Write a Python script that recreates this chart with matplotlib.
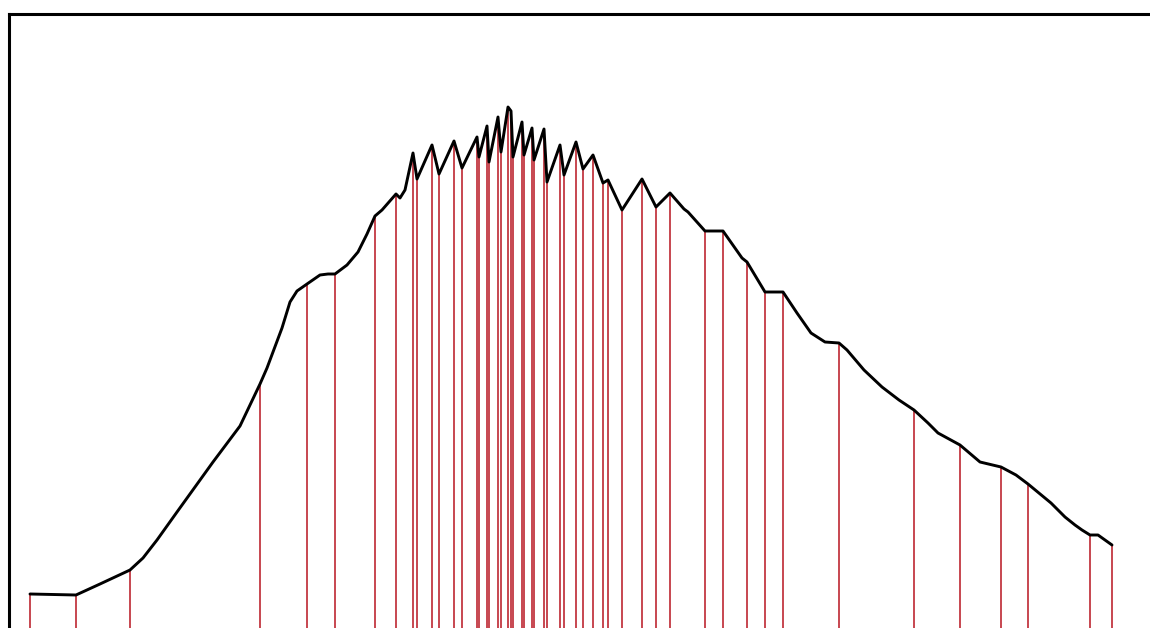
import numpy as np
import matplotlib
matplotlib.use("Agg")
import matplotlib.pyplot as plt

# curve vertices: x position, pixel row of the curve, and whether a red stem is drawn
x = [30, 76, 100, 130, 143, 157, 177, 213, 240, 260, 267, 273, 282, 290, 297,
     307, 320, 328, 335, 347, 358, 367,
     375, 382, 396, 400, 405, 413, 417, 432, 439, 454, 462, 477, 479, 487, 489, 498,
     501, 508, 511, 513, 522, 524, 532, 534, 544, 547, 560, 564, 576, 583, 593, 603,
     608, 622, 642, 656, 670, 684, 688, 705, 723, 742, 747, 765, 783, 797, 811, 825, 839,
     847, 864, 882, 899, 914, 928, 938, 949, 960, 980, 1001, 1016, 1028, 1051, 1065,
     1075, 1082, 1090, 1098, 1112]
y_pix = [594, 595, 584, 570, 558, 540, 512, 462, 426, 384, 368, 352, 328, 302, 291,
         284, 275, 274, 274, 265, 252, 234,
         216, 210, 194, 198, 190, 153, 179, 145, 174, 141, 168, 137, 157, 126, 162, 117,
         152, 107, 111, 157, 122, 155, 128, 160, 129, 182, 145, 175, 142, 169, 155, 183,
         180, 210, 179, 207, 193, 209, 212, 231, 231, 258, 262, 292, 292, 313, 333, 342, 343,
         350, 370, 387, 400, 410, 423, 433, 439, 445, 462, 467, 475, 484, 503, 517,
         525, 530, 535, 535, 545]
stem = [1, 1, 0, 1, 0, 0, 0, 0, 0, 1, 0, 0, 0, 0, 0,
        1, 0, 0, 1, 0, 0, 0,
        1, 0, 1, 0, 0, 1, 1, 1, 1, 1, 1, 1, 1, 1, 1, 1,
        1, 1, 1, 1, 1, 1, 1, 1, 1, 1, 1, 1, 1, 1, 1, 1,
        1, 1, 1, 1, 1, 0, 0, 1, 1, 0, 1, 1, 1, 0, 0, 0, 1,
        0, 0, 0, 0, 1, 0, 0, 0, 1, 0, 1, 0, 1, 0, 0,
        0, 0, 1, 0, 1]

H = 628
height = [H - v for v in y_pix]

x = np.array(x)
height = np.array(height)
stem = np.array(stem, dtype=bool)

fig = plt.figure(figsize=(11.5, 6.28), dpi=100)
top = H - 13.5
ax = fig.add_axes([9 / 1150, 0, 1 - 9 / 1150 + 0.01, top / H])
ax.set_xlim(9, 9 + (1 - 9 / 1150 + 0.01) * 1150)
ax.set_ylim(0, top)

ax.vlines(x[stem], 0, height[stem], color='#c0303a', linewidth=1.25, zorder=1)
ax.plot(x, height, color='black', linewidth=2.1, solid_joinstyle='round',
        solid_capstyle='round', zorder=2)

for s in ['right', 'bottom']:
    ax.spines[s].set_visible(False)
for s in ['left', 'top']:
    ax.spines[s].set_linewidth(2.2)
ax.set_xticks([])
ax.set_yticks([])

fig.savefig('out.png', dpi=100)
